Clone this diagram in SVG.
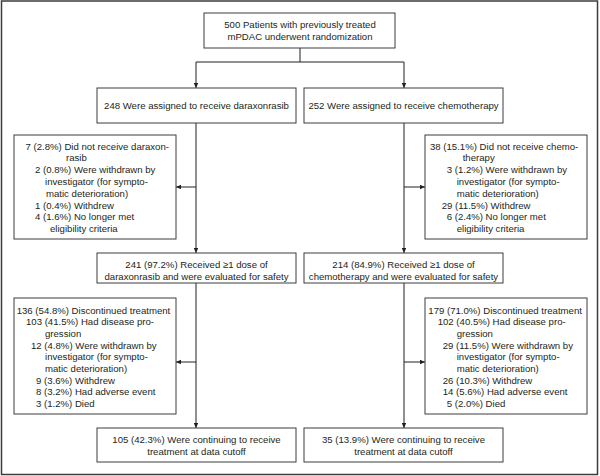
<svg xmlns="http://www.w3.org/2000/svg" width="600" height="476" viewBox="0 0 600 476">
<style>
.bg{fill:#fff}
.frame{fill:none;stroke:#3c3c3c;stroke-width:1.5}
.box{fill:#fff;stroke:#3c3c3c;stroke-width:1}
.t{font-family:"Liberation Sans",Arial,sans-serif;font-size:9.6px;fill:#231f20}
.m{text-anchor:middle}
.ln{fill:none;stroke:#231f20;stroke-width:1}
</style>
<defs>
<marker id="ah" markerWidth="5" markerHeight="5" refX="5" refY="2.25" orient="auto" markerUnits="userSpaceOnUse">
<path d="M0,0 L5,2.25 L0,4.5 z" fill="#231f20"/>
</marker>
</defs>
<rect class="bg" x="0" y="0" width="600" height="476"/>
<rect class="frame" x="1.5" y="1" width="596" height="473.5"/>

<g id="connectors">
<path class="ln" d="M300,48 V62 M196,62 H404"/>
<path class="ln" d="M196,62 V88" marker-end="url(#ah)"/>
<path class="ln" d="M404,62 V88" marker-end="url(#ah)"/>
<path class="ln" d="M196,123 V253" marker-end="url(#ah)"/>
<path class="ln" d="M196,187 H176" marker-end="url(#ah)"/>
<path class="ln" d="M404,123 V253" marker-end="url(#ah)"/>
<path class="ln" d="M404,187 H425" marker-end="url(#ah)"/>
<path class="ln" d="M196,283 V428" marker-end="url(#ah)"/>
<path class="ln" d="M196,362 H176" marker-end="url(#ah)"/>
<path class="ln" d="M404,283 V428" marker-end="url(#ah)"/>
<path class="ln" d="M404,362 H425" marker-end="url(#ah)"/>
</g>

<g id="randomized">
<rect class="box" x="204" y="13" width="191" height="35"/>
<text class="t m" x="300" y="28">500 Patients with previously treated</text>
<text class="t m" x="300" y="39.5">mPDAC underwent randomization</text>
</g>

<g id="assigned-daraxonrasib">
<rect class="box" x="97" y="88" width="199" height="35"/>
<text class="t m" x="196.5" y="109">248 Were assigned to receive daraxonrasib</text>
</g>

<g id="assigned-chemotherapy">
<rect class="box" x="304" y="88" width="199" height="35"/>
<text class="t m" x="403.5" y="109">252 Were assigned to receive chemotherapy</text>
</g>

<g id="excluded-daraxonrasib">
<rect class="box" x="14" y="135" width="162" height="104"/>
<text class="t" x="25.5" y="149.5">7 (2.8%) Did not receive daraxon-</text>
<text class="t" x="66" y="161.3">rasib</text>
<text class="t" x="35" y="173.1">2 (0.8%) Were withdrawn by</text>
<text class="t" x="45" y="184.9">investigator (for sympto-</text>
<text class="t" x="46" y="196.7">matic deterioration)</text>
<text class="t" x="35" y="208.5">1 (0.4%) Withdrew</text>
<text class="t" x="35" y="220.3">4 (1.6%) No longer met</text>
<text class="t" x="50" y="232.1">eligibility criteria</text>
</g>

<g id="excluded-chemotherapy">
<rect class="box" x="425" y="135" width="162" height="104"/>
<text class="t" x="430" y="149.5">38 (15.1%) Did not receive chemo-</text>
<text class="t" x="462.7" y="161.3">therapy</text>
<text class="t" x="446.7" y="173.1">3 (1.2%) Were withdrawn by</text>
<text class="t" x="456.7" y="184.9">investigator (for sympto-</text>
<text class="t" x="456.7" y="196.7">matic deterioration)</text>
<text class="t" x="441.7" y="208.5">29 (11.5%) Withdrew</text>
<text class="t" x="446.7" y="220.3">6 (2.4%) No longer met</text>
<text class="t" x="456.7" y="232.1">eligibility criteria</text>
</g>

<g id="safety-daraxonrasib">
<rect class="box" x="97" y="253" width="199" height="30"/>
<text class="t m" x="196.5" y="268">241 (97.2%) Received ≥1 dose of</text>
<text class="t m" x="196.5" y="279.5">daraxonrasib and were evaluated for safety</text>
</g>

<g id="safety-chemotherapy">
<rect class="box" x="304" y="253" width="199" height="30"/>
<text class="t m" x="403.5" y="268">214 (84.9%) Received ≥1 dose of</text>
<text class="t m" x="403.5" y="279.5">chemotherapy and were evaluated for safety</text>
</g>

<g id="discontinued-daraxonrasib">
<rect class="box" x="14" y="298" width="162" height="116"/>
<text class="t" x="16.7" y="313.5">136 (54.8%) Discontinued treatment</text>
<text class="t" x="26" y="325.2">103 (41.5%) Had disease pro-</text>
<text class="t" x="45" y="336.9">gression</text>
<text class="t" x="31" y="348.6">12 (4.8%) Were withdrawn by</text>
<text class="t" x="45" y="360.3">investigator (for sympto-</text>
<text class="t" x="45" y="372">matic deterioration)</text>
<text class="t" x="36" y="383.7">9 (3.6%) Withdrew</text>
<text class="t" x="36" y="395.4">8 (3.2%) Had adverse event</text>
<text class="t" x="36" y="407.1">3 (1.2%) Died</text>
</g>

<g id="discontinued-chemotherapy">
<rect class="box" x="425" y="298" width="162" height="116"/>
<text class="t" x="428.3" y="313.5">179 (71.0%) Discontinued treatment</text>
<text class="t" x="437.7" y="325.2">102 (40.5%) Had disease pro-</text>
<text class="t" x="456.7" y="336.9">gression</text>
<text class="t" x="442.7" y="348.6">29 (11.5%) Were withdrawn by</text>
<text class="t" x="456.7" y="360.3">investigator (for sympto-</text>
<text class="t" x="456.7" y="372">matic deterioration)</text>
<text class="t" x="442.7" y="383.7">26 (10.3%) Withdrew</text>
<text class="t" x="442.7" y="395.4">14 (5.6%) Had adverse event</text>
<text class="t" x="446.7" y="407.1">5 (2.0%) Died</text>
</g>

<g id="continuing-daraxonrasib">
<rect class="box" x="97" y="428" width="199" height="34"/>
<text class="t m" x="196.5" y="443">105 (42.3%) Were continuing to receive</text>
<text class="t m" x="196.5" y="455">treatment at data cutoff</text>
</g>

<g id="continuing-chemotherapy">
<rect class="box" x="304" y="428" width="199" height="34"/>
<text class="t m" x="403.5" y="443">35 (13.9%) Were continuing to receive</text>
<text class="t m" x="403.5" y="455">treatment at data cutoff</text>
</g>
</svg>
